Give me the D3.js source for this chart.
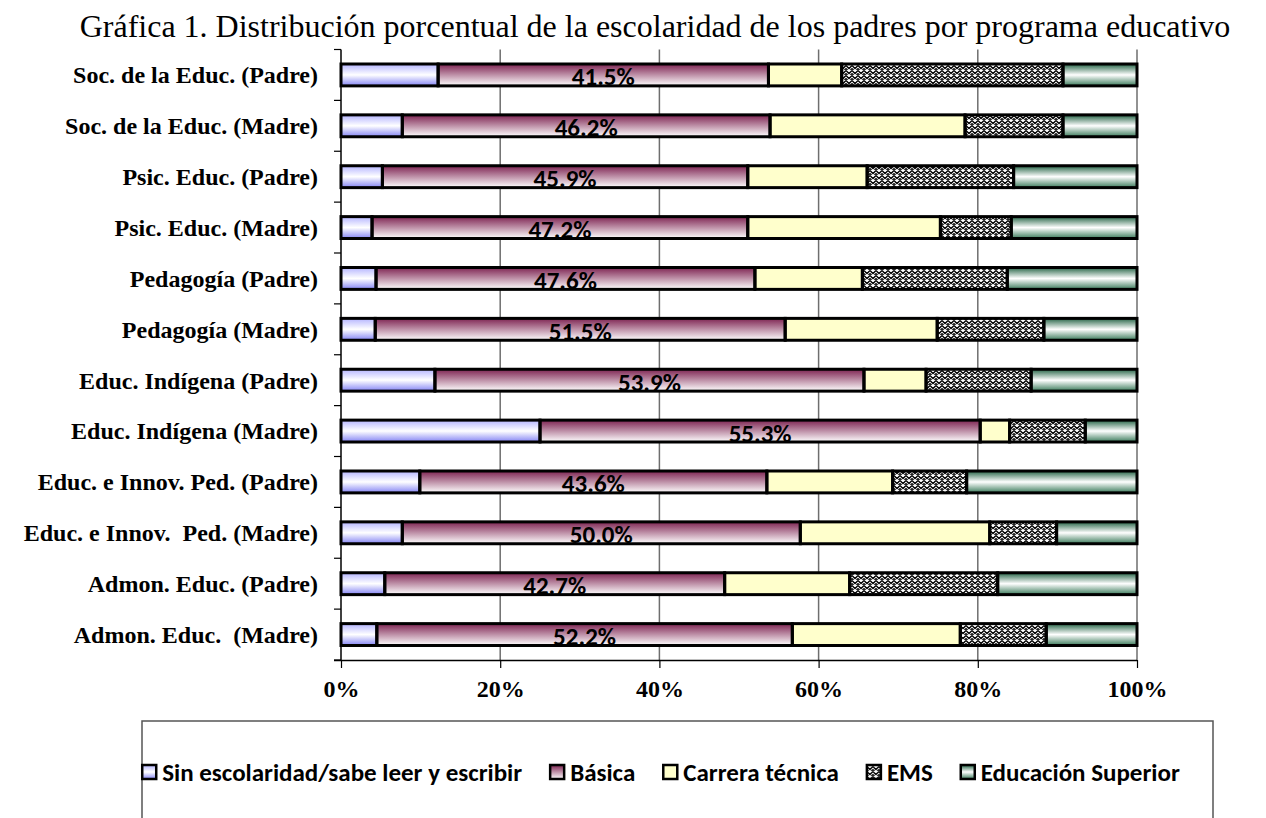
<!DOCTYPE html>
<html>
<head>
<meta charset="utf-8">
<script src="https://cdn.jsdelivr.net/npm/d3@7"></script>
<style>
  body { margin: 0; background: #fff; }
  svg { display: block; }
</style>
</head>
<body>
<svg id="chart" width="1266" height="818"></svg>
<script>
// categories, top to bottom as in the chart
const categories = [
  'Soc. de la Educ. (Padre)',
  'Soc. de la Educ. (Madre)',
  'Psic. Educ. (Padre)',
  'Psic. Educ. (Madre)',
  'Pedagogía (Padre)',
  'Pedagogía (Madre)',
  'Educ. Indígena (Padre)',
  'Educ. Indígena (Madre)',
  'Educ. e Innov. Ped. (Padre)',
  'Educ. e Innov.  Ped. (Madre)',
  'Admon. Educ. (Padre)',
  'Admon. Educ.  (Madre)',
];

const seriesNames = [
  'Sin escolaridad/sabe leer y escribir',
  'Básica',
  'Carrera técnica',
  'EMS',
  'Educación Superior',
];

// values in %
const sinEscolaridad = [12.2, 7.7, 5.2, 3.9, 4.4, 4.3, 11.8, 25.0, 9.9, 7.7, 5.5, 4.5];
const basica = [41.5, 46.2, 45.9, 47.2, 47.6, 51.5, 53.9, 55.3, 43.6, 50.0, 42.7, 52.2];
const carreraTecnica = [9.2, 24.5, 15.0, 24.2, 13.5, 19.1, 7.8, 3.7, 15.8, 23.8, 15.7, 21.1];
const ems = [27.8, 12.3, 18.4, 8.9, 18.2, 13.4, 13.2, 9.5, 9.3, 8.4, 18.6, 10.8];
const educSuperior = [9.3, 9.3, 15.5, 15.8, 16.3, 11.7, 13.3, 6.5, 21.4, 10.1, 17.5, 11.4];

const xTicks = [0, 20, 40, 60, 80, 100];

const titleText = 'Gráfica 1. Distribución porcentual de la escolaridad de los padres por programa educativo';

// table for d3.stack
let table = [];
categories.forEach((c, i) => {
  let row = { cat: c };
  row[seriesNames[0]] = sinEscolaridad[i];
  row[seriesNames[1]] = basica[i];
  row[seriesNames[2]] = carreraTecnica[i];
  row[seriesNames[3]] = ems[i];
  row[seriesNames[4]] = educSuperior[i];
  table.push(row);
});

const svg = d3.select('#chart');
const plotLeft = 341, plotRight = 1137, plotTop = 49.5, plotBottom = 660;
const serif = '"Liberation Serif", "Times New Roman", serif';
const sans = 'Carlito, Lato, sans-serif';

const x = d3.scaleLinear().domain([0, 100]).range([plotLeft, plotRight]);
const y = d3.scaleBand()
  .domain(categories)
  .range([plotTop, plotBottom])
  .paddingInner(0.57)
  .paddingOuter(0.285);

// fills
const defs = svg.append('defs');

function vGrad(id, stops) {
  const g = defs.append('linearGradient')
    .attr('id', id)
    .attr('x1', 0).attr('y1', 0).attr('x2', 0).attr('y2', 1);
  stops.forEach((s) => {
    g.append('stop').attr('offset', s[0]).attr('stop-color', s[1]);
  });
}
vGrad('gBlue', [[0, '#b4b4ff'], [0.5, '#ffffff'], [1, '#8484f4']]);
vGrad('gMaroon', [[0, '#7e2452'], [1, '#ffffff']]);
vGrad('gGreen', [[0, '#256446'], [0.5, '#ffffff'], [1, '#3a7a5a']]);

const pat = defs.append('pattern')
  .attr('id', 'pEms')
  .attr('patternUnits', 'userSpaceOnUse')
  .attr('width', 6).attr('height', 5);
pat.append('rect').attr('width', 6).attr('height', 5).attr('fill', '#fff');
pat.append('path')
  .attr('d', 'M0,0.5 L3,3.5 L6,0.5 M0,3.5 L1.5,5 M4.5,5 L6,3.5')
  .attr('stroke', '#000')
  .attr('stroke-width', 1.3)
  .attr('fill', 'none');

const fills = ['url(#gBlue)', 'url(#gMaroon)', '#ffffcc', 'url(#pEms)', 'url(#gGreen)'];

// title
svg.append('text')
  .attr('x', 655)
  .attr('y', 37)
  .attr('text-anchor', 'middle')
  .style('font-family', serif)
  .style('font-size', '32px')
  .text(titleText);

// gridlines
svg.append('g')
  .selectAll('line')
  .data(xTicks.slice(1))
  .join('line')
  .attr('x1', (d) => x(d))
  .attr('x2', (d) => x(d))
  .attr('y1', plotTop)
  .attr('y2', plotBottom)
  .style('stroke', '#6e6e6e')
  .style('stroke-width', 1.5);

// bars
const stacked = d3.stack().keys(seriesNames)(table);

const barGroups = svg.append('g')
  .selectAll('g')
  .data(stacked)
  .join('g')
  .attr('fill', (d, i) => fills[i]);

barGroups.selectAll('rect')
  .data((d) => d)
  .join('rect')
  .attr('x', (d) => x(d[0]))
  .attr('y', (d) => y(d.data.cat))
  .attr('width', (d) => x(d[1]) - x(d[0]))
  .attr('height', y.bandwidth());

// labels on Básica
svg.append('g')
  .selectAll('text')
  .data(stacked[1])
  .join('text')
  .attr('x', (d) => (x(d[0]) + x(d[1])) / 2)
  .attr('y', (d) => y(d.data.cat) + y.bandwidth() - 0.5)
  .attr('text-anchor', 'middle')
  .style('font-family', sans)
  .style('font-weight', 'bold')
  .style('font-size', '25px')
  .style('fill', '#000')
  .text((d) => d3.format('.1f')(d[1] - d[0]) + '%');

// bar outlines drawn over the labels
svg.append('g')
  .selectAll('g')
  .data(stacked)
  .join('g')
  .selectAll('rect')
  .data((d) => d)
  .join('rect')
  .attr('x', (d) => x(d[0]))
  .attr('y', (d) => y(d.data.cat))
  .attr('width', (d) => x(d[1]) - x(d[0]))
  .attr('height', y.bandwidth())
  .style('fill', 'none')
  .style('stroke', '#000')
  .style('stroke-width', 3);

// y axis
svg.append('line')
  .attr('x1', plotLeft).attr('x2', plotLeft)
  .attr('y1', plotTop).attr('y2', plotBottom)
  .style('stroke', '#000').style('stroke-width', 1.5);

const boundaries = d3.range(categories.length + 1).map((i) => plotTop + i * y.step());
svg.append('g')
  .selectAll('line')
  .data(boundaries)
  .join('line')
  .attr('x1', plotLeft - 7).attr('x2', plotLeft)
  .attr('y1', (d) => d).attr('y2', (d) => d)
  .style('stroke', '#000').style('stroke-width', 1.2);

svg.append('g')
  .selectAll('text')
  .data(categories)
  .join('text')
  .attr('x', 318)
  .attr('y', (d) => y(d) + y.bandwidth() / 2)
  .attr('dy', '0.35em')
  .attr('text-anchor', 'end')
  .style('white-space', 'pre')
  .style('font-family', serif)
  .style('font-weight', 'bold')
  .style('font-size', '24px')
  .text((d) => d);

// x axis
const xAxis = d3.axisBottom(x)
  .tickValues(xTicks)
  .tickSize(8)
  .tickSizeOuter(0)
  .tickFormat((d) => d + '%');
const xg = svg.append('g')
  .attr('transform', `translate(0,${plotBottom})`)
  .call(xAxis);
xg.select('.domain').attr('d', `M${plotLeft - 7},0.5H${plotRight}`).style('stroke-width', 1.5);
xg.selectAll('.tick line').style('stroke-width', 1.2);
xg.selectAll('.tick text')
  .attr('y', 37)
  .attr('dy', '0')
  .style('font-family', serif)
  .style('font-weight', 'bold')
  .style('font-size', '24px')
  .style('fill', '#000');

// legend
svg.append('rect')
  .attr('x', 142).attr('y', 721)
  .attr('width', 1071).attr('height', 130)
  .style('fill', 'none')
  .style('stroke', '#555')
  .style('stroke-width', 1.5);

const legend = svg.append('g')
  .selectAll('g')
  .data(seriesNames)
  .join('g');

legend.append('rect')
  .attr('x', 0).attr('y', -16)
  .attr('width', 14).attr('height', 14)
  .attr('fill', (d, i) => fills[i])
  .style('stroke', '#000')
  .style('stroke-width', 2.5);

legend.append('text')
  .attr('x', 20)
  .attr('y', 0)
  .style('font-family', sans)
  .style('font-weight', 'bold')
  .style('font-size', '25px')
  .text((d) => d);

// lay the items out in a row, centred under the plot
let widths = [];
legend.selectAll('text').each(function () {
  widths.push(20 + this.getComputedTextLength());
});
const itemGap = 28;
const totalWidth = d3.sum(widths) + itemGap * (widths.length - 1);
let cursor = 661 - totalWidth / 2;
legend.attr('transform', (d, i) => {
  const pos = cursor;
  cursor += widths[i] + itemGap;
  return `translate(${pos},781)`;
});
</script>
</body>
</html>
